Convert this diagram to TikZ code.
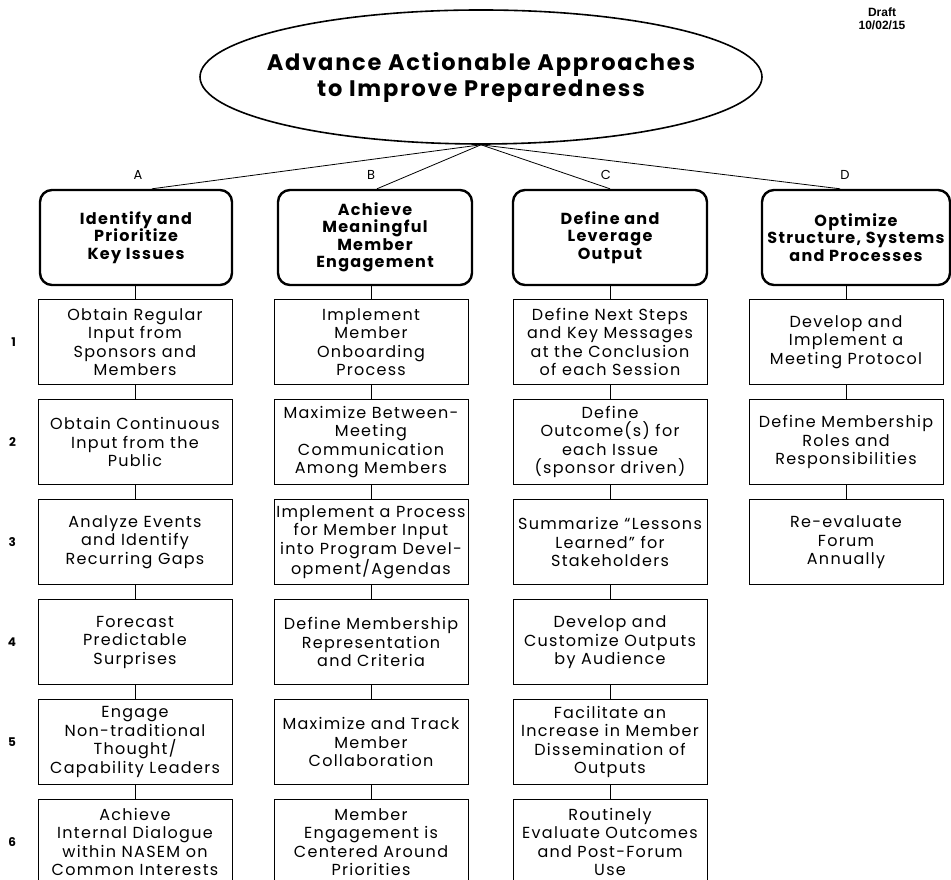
\documentclass[tikz,border=0pt]{standalone}
\usepackage{fontspec}
\setmainfont{Poppins}
\newfontfamily\widefont{Poppins}[LetterSpace=8, Ligatures=TeX]
\newfontfamily\datefont{Liberation Sans}
\usetikzlibrary{positioning, shapes.geometric}

\tikzset{
  goal/.style={ellipse, draw, line width=1.6pt, minimum width=562pt, minimum height=134pt,
    inner xsep=-40pt, inner ysep=0pt, align=center, font=\widefont\bfseries\fontsize{22.5}{26}\selectfont},
  headbox/.style={draw, line width=2.4pt, rounded corners=12pt, minimum height=95pt,
    minimum width=#1, inner sep=1pt, align=center, font=\widefont\bfseries\fontsize{16}{17.5}\selectfont},
  itembox/.style={draw, line width=1pt, minimum width=194pt, minimum height=85pt,
    inner sep=0pt, align=center, font=\widefont\fontsize{16}{18.5}\selectfont},
  rownum/.style={font=\bfseries\fontsize{12}{14}\selectfont},
  branch/.style={font=\fontsize{13}{15}\selectfont},
  link/.style={line width=0.8pt},
}

\begin{document}
\begin{tikzpicture}[x=1pt, y=1pt]
  \useasboundingbox (0,0) rectangle (951,880);

  \node[goal] (top) at (481,803) {Advance Actionable Approaches\\to Improve Preparedness};
  \node[font=\datefont\bfseries\fontsize{12}{13}\selectfont, align=center] (draft) at (882,861) {Draft\\10/02/15};

  % header boxes
  \node[headbox=192pt] (hA) at (136,642.5) {Identify and\\Prioritize\\Key Issues};
  \node[headbox=194pt] (hB) at (375,642.5) {Achieve\\Meaningful\\Member\\Engagement};
  \node[headbox=194pt] (hC) at (610,642.5) {Define and\\Leverage\\Output};
  \node[headbox=188pt] (hD) at (856,642.5) {Optimize\\Structure, Systems\\and Processes};

  \node[branch] (lA) at (138,705) {A};
  \node[branch] (lB) at (371,705) {B};
  \node[branch] (lC) at (606,705) {C};
  \node[branch] (lD) at (845,705) {D};

  \draw[link] (top.south) -- ([xshift=16pt]hA.north);
  \draw[link] (top.south) -- ([xshift=2pt]hB.north);
  \draw[link] (top.south) -- (hC.north);
  \draw[link] (top.south) -- ([xshift=-16pt]hD.north);

  % column A
  \node[itembox, below=13pt of hA, xshift=-1pt] (a1) {Obtain Regular\\Input from\\Sponsors and\\Members};
  \node[itembox, below=14pt of a1] (a2) {Obtain Continuous\\Input from the\\Public};
  \node[itembox, below=14pt of a2] (a3) {Analyze Events\\and Identify\\Recurring Gaps};
  \node[itembox, below=14pt of a3] (a4) {Forecast\\Predictable\\Surprises};
  \node[itembox, below=14pt of a4] (a5) {Engage\\Non-traditional\\Thought/\\Capability Leaders};
  \node[itembox, below=14pt of a5] (a6) {Achieve\\Internal Dialogue\\within NASEM on\\Common Interests};

  % column B
  \node[itembox, below=13pt of hB, xshift=-4pt] (b1) {Implement\\Member\\Onboarding\\Process};
  \node[itembox, below=14pt of b1] (b2) {Maximize Between-\\Meeting\\Communication\\Among Members};
  \node[itembox, below=14pt of b2] (b3) {Implement a Process\\for Member Input\\into Program Devel-\\opment/Agendas};
  \node[itembox, below=14pt of b3] (b4) {Define Membership\\Representation\\and Criteria};
  \node[itembox, below=14pt of b4] (b5) {Maximize and Track\\Member\\Collaboration};
  \node[itembox, below=14pt of b5] (b6) {Member\\Engagement is\\Centered Around\\Priorities};

  % column C
  \node[itembox, below=13pt of hC] (c1) {Define Next Steps\\and Key Messages\\at the Conclusion\\of each Session};
  \node[itembox, below=14pt of c1] (c2) {Define\\Outcome(s) for\\each Issue\\(sponsor driven)};
  \node[itembox, below=14pt of c2] (c3) {Summarize ``Lessons\\Learned'' for\\Stakeholders};
  \node[itembox, below=14pt of c3] (c4) {Develop and\\Customize Outputs\\by Audience};
  \node[itembox, below=14pt of c4] (c5) {Facilitate an\\Increase in Member\\Dissemination of\\Outputs};
  \node[itembox, below=14pt of c5] (c6) {Routinely\\Evaluate Outcomes\\and Post-Forum\\Use};

  % column D
  \node[itembox, below=13pt of hD, xshift=-10pt] (d1) {Develop and\\Implement a\\Meeting Protocol};
  \node[itembox, below=14pt of d1] (d2) {Define Membership\\Roles and\\Responsibilities};
  \node[itembox, below=14pt of d2] (d3) {Re-evaluate\\Forum\\Annually};

  % row numbers
  \foreach \r in {1,...,6}
    \node[rownum, left=18pt of a\r] (n\r) {\r};

  % links down each column
  \foreach \c/\n in {a/6, b/6, c/6, d/3} {
    \foreach [count=\i from 2] \j in {1,...,5} {
      \ifnum\i>\n\else
        \draw[link] (\c\j) -- (\c\i);
      \fi
    }
  }
  \draw[link] (a1.north |- hA.south) -- (a1.north);
  \draw[link] (b1.north |- hB.south) -- (b1.north);
  \draw[link] (c1.north |- hC.south) -- (c1.north);
  \draw[link] (d1.north |- hD.south) -- (d1.north);
\end{tikzpicture}
\end{document}
